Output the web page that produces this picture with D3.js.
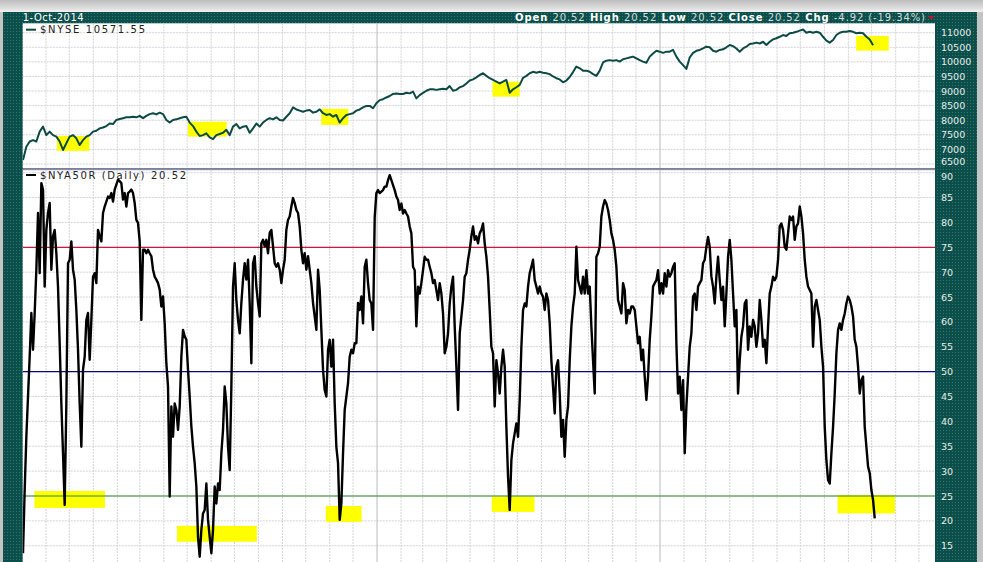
<!DOCTYPE html>
<html><head><meta charset="utf-8">
<script src="https://cdn.jsdelivr.net/npm/d3@7"></script>
<style>
body{margin:0;background:#fff}
svg{display:block}
text{font-family:"DejaVu Sans",Verdana,sans-serif}
</style>
</head><body>
<svg id="chart" width="983" height="562"></svg>
<script>
// ---------------- DATA ----------------
const headerDate = "1-Oct-2014";
const headerLabels = ["Open", "High", "Low", "Close", "Chg"];
const headerValues = ["20.52", "20.52", "20.52", "20.52", "-4.92 (-19.34%)"];

const nyseName = "$NYSE 10571.55";
const breadthName = "$NYA50R (Daily) 20.52";

const seriesStart = "2011-10-02T08:00:00Z";
const nyseStepDays = 4.3;
const nyseValues = [
6640,7090,7270,7320,7270,7610,7780,7490,7610,7490,
7440,7270,6980,7210,7440,7490,7380,7150,7320,7440,
7490,7610,7640,7720,7750,7800,7890,7870,8010,8040,
8070,8100,8100,8120,8100,8150,8070,8150,8210,8240,
8200,8260,8210,8010,7920,8010,8030,8070,8100,8120,
7920,7800,7610,7460,7490,7550,7410,7350,7490,7530,
7570,7670,7490,7780,7870,7720,7780,7800,7570,7720,
7890,7780,7920,8010,8070,8030,8100,8010,7990,8120,
8240,8440,8370,8330,8290,8330,8350,8260,8290,8370,
8240,8180,8210,8120,8180,7920,8070,8180,8210,8240,
8330,8370,8440,8490,8490,8410,8580,8690,8720,8780,
8830,8900,8920,8900,8900,8940,8920,8980,8750,8860,
8940,9010,9060,9060,9040,9060,9080,9060,9170,9010,
9040,9130,9170,9260,9360,9400,9470,9550,9610,9520,
9440,9380,9320,9260,
9320,9380,8940,9060,9130,9210,9450,9520,9610,9660,
9630,9660,9630,9610,9580,9500,9440,9400,9300,9360,
9480,9650,9840,9780,9700,9700,9660,9580,9520,9700,
9980,10040,10060,10040,10060,10010,10090,10120,10150,10180,
10120,10060,10010,9970,10180,10290,10380,10350,10310,10350,
10350,10410,10180,10010,9890,9760,10150,10310,10380,10410,
10460,10520,10500,10380,10350,10410,10430,10500,10580,10540,
10460,10350,10460,10520,10610,10630,10660,10630,10690,10580,
10690,10770,10810,10860,10920,10890,10980,11000,11030,11070,
11110,11000,11030,11000,11030,11000,10860,10730,10660,10750,
10920,11000,11030,11030,11060,11030,10980,11000,10980,10860,
10770,10570
];

const breadthStepDays = 2.15;
const breadthValues = [
13.5,26.2,36.9,45.0,53.0,61.8,54.4,61.8,70.5,81.9,
69.8,87.9,86.6,67.1,78.5,81.9,83.9,70.5,77.2,78.5,
73.8,67.1,55.7,43.6,33.6,23.2,43.6,71.8,72.5,76.2,
70.5,68.5,62.4,54.4,43.6,34.9,50.4,53.0,60.4,61.8,
52.4,60.4,69.1,69.8,67.8,78.5,77.2,76.2,81.9,83.2,
84.2,85.2,84.9,85.9,84.2,86.6,87.6,88.6,88.3,87.9,
84.6,85.9,83.2,85.9,86.2,86.6,85.9,83.9,80.5,79.9,
76.2,60.4,74.5,74.5,73.8,74.5,73.8,73.2,70.5,69.1,
68.5,67.8,66.5,63.1,65.1,59.7,51.7,47.0,24.9,43.0,
36.9,43.6,42.3,38.3,43.0,53.0,58.4,57.1,56.4,50.4,
45.0,39.0,34.9,31.6,26.9,16.8,12.8,18.2,21.5,22.2,
27.5,20.2,16.8,13.5,18.2,26.9,23.5,27.5,26.2,33.6,
38.3,47.0,43.6,34.9,30.2,47.0,67.1,71.8,64.4,60.4,
57.7,63.8,68.5,71.8,68.5,72.5,63.8,51.7,71.8,73.2,
67.1,63.8,61.1,75.8,76.5,75.2,76.5,73.8,77.9,78.5,
75.2,71.8,71.1,71.8,70.5,67.8,70.5,72.5,78.5,80.5,
81.2,83.2,84.9,83.9,82.5,81.9,79.2,74.5,71.8,73.8,
70.5,73.2,70.5,67.8,63.8,61.1,58.4,70.5,66.5,58.4,
50.4,46.3,45.0,54.4,56.4,51.0,56.4,43.6,34.9,31.6,
20.2,23.5,33.6,42.3,45.0,47.7,53.0,54.4,53.7,55.7,
55.7,63.8,62.4,65.1,59.7,71.1,72.5,67.8,
64.4,63.7,58.4,81.0,85.9,86.5,85.9,86.2,86.5,87.2,
87.2,88.5,89.5,88.5,87.5,86.5,85.2,84.5,82.5,83.8,
81.8,82.5,81.8,81.2,79.2,77.8,71.1,70.4,59.1,67.1,
65.7,67.8,70.4,73.1,72.5,72.5,71.1,69.8,67.8,68.4,
66.4,64.4,67.8,65.7,61.7,53.7,55.0,57.7,63.7,67.1,
69.1,59.1,51.0,42.3,57.7,61.1,64.4,69.1,69.8,72.5,
74.5,77.2,79.2,76.5,77.2,75.8,77.8,78.5,79.8,75.8,
73.1,69.1,62.4,55.0,53.7,43.0,52.3,49.7,45.6,51.0,
54.4,51.0,38.9,28.9,22.2,32.2,35.6,37.6,39.6,36.9,
44.3,55.0,62.4,63.7,63.1,67.1,69.8,71.1,72.5,68.4,
67.1,65.7,67.1,65.7,65.1,62.4,65.7,64.4,59.7,52.3,
47.0,41.6,51.0,52.3,45.6,36.9,40.3,32.9,40.3,43.0,
52.3,59.1,63.1,65.7,75.1,68.4,67.1,65.7,69.1,65.7,
70.4,65.7,67.1,59.1,52.3,45.6,73.1,73.8,75.1,81.2,
83.2,84.5,83.8,82.5,80.5,77.8,76.5,74.5,71.1,64.4,
63.1,61.7,67.8,66.4,59.7,62.4,61.7,63.1,63.1,62.4,
59.1,55.7,57.0,52.3,54.4,49.0,44.3,49.0,56.4,61.1,
67.1,67.8,68.4,70.4,
65.7,67.8,65.7,69.8,67.1,70.4,69.1,69.8,71.1,71.8,
55.7,45.6,49.0,42.3,48.3,33.6,43.0,49.0,55.0,57.7,
65.1,65.7,62.4,67.1,67.8,68.4,71.8,72.5,75.1,77.1,
75.1,69.1,67.1,63.7,69.1,73.1,68.4,64.4,67.1,59.1,
65.7,73.1,76.5,72.5,65.7,59.1,62.4,45.6,52.3,57.0,
59.1,63.7,64.4,54.4,59.1,57.0,60.4,59.1,55.0,57.7,
64.4,60.4,55.0,56.4,51.7,59.1,65.7,67.1,69.1,68.4,
69.1,72.5,79.2,79.8,78.5,75.1,74.5,77.8,81.2,80.5,
81.2,76.5,79.2,79.8,83.2,81.2,77.8,72.5,69.1,67.1,
66.4,65.7,55.0,63.1,64.4,62.4,60.4,55.0,51.0,38.9,
32.2,28.2,27.5,33.6,38.9,45.6,53.7,58.4,59.7,58.4,
60.4,61.7,63.7,65.1,64.4,63.1,61.1,56.4,55.0,51.0,
45.6,48.3,49.0,38.9,34.9,30.9,29.6,26.2,24.2,20.52
];

const nyseTicks = [6500,7000,7500,8000,8500,9000,9500,10000,10500,11000];
const breadthTicks = [15,20,25,30,35,40,45,50,55,60,65,70,75,80,85,90];
const breadthRefLevels = [75, 50, 25];

// yellow annotation boxes (date range, value range)
const nyseHighlights = [
  {from:"2011-11-15", to:"2011-12-27", lo:6950, hi:7460},
  {from:"2012-05-02", to:"2012-06-21", lo:7440, hi:7950},
  {from:"2012-10-21", to:"2012-11-25", lo:7840, hi:8390},
  {from:"2013-05-30", to:"2013-07-04", lo:8810, hi:9320},
  {from:"2014-09-11", to:"2014-10-23", lo:10385, hi:10890}
];
const breadthHighlights = [
  {from:"2011-10-17", to:"2012-01-16", lo:22.6, hi:26.0},
  {from:"2012-04-18", to:"2012-07-30", lo:15.8, hi:19.0},
  {from:"2012-10-27", to:"2012-12-12", lo:19.8, hi:23.0},
  {from:"2013-05-29", to:"2013-07-23", lo:21.8, hi:24.9},
  {from:"2014-08-18", to:"2014-10-31", lo:21.5, hi:25.2}
];

// ---------------- LAYOUT ----------------
const W = 983, H = 562;
const L = 22.7, R = 935;
const upTop = 23.3, upBot = 168, loTop = 170, loBot = 562;

const svg = d3.select("#chart");
const defs = svg.append("defs");

const pat = defs.append("pattern").attr("id","dots").attr("width",3).attr("height",3)
  .attr("patternUnits","userSpaceOnUse");
pat.append("rect").attr("width",3).attr("height",3).attr("fill","#0b4e4b");
pat.append("rect").attr("x",1).attr("y",1).attr("width",1).attr("height",1).attr("fill","#2f7a66");

const g1 = defs.append("linearGradient").attr("id","shade").attr("x1",0).attr("y1",0).attr("x2",0).attr("y2",1);
g1.append("stop").attr("offset","0%").attr("stop-color","#bdbdbd");
g1.append("stop").attr("offset","70%").attr("stop-color","#dedede");
g1.append("stop").attr("offset","100%").attr("stop-color","#f2f2f2");

defs.append("clipPath").attr("id","clipUp").append("rect")
  .attr("x",L).attr("y",upTop).attr("width",R-L).attr("height",upBot-upTop);
defs.append("clipPath").attr("id","clipLo").append("rect")
  .attr("x",L).attr("y",loTop).attr("width",R-L).attr("height",loBot-loTop);

// background / frame
svg.append("rect").attr("width",W).attr("height",H).attr("fill","#c4c4c4");
svg.append("rect").attr("width",W).attr("height",12).attr("fill","url(#shade)");
svg.append("rect").attr("x",3).attr("y",12).attr("width",974).attr("height",H-12).attr("fill","url(#dots)");
svg.append("rect").attr("x",L).attr("y",upTop).attr("width",R-L).attr("height",upBot-upTop).attr("fill","#fff");
svg.append("rect").attr("x",L).attr("y",loTop).attr("width",R-L).attr("height",loBot-loTop).attr("fill","#fff");
svg.append("rect").attr("x",L).attr("y",upBot).attr("width",R-L).attr("height",1.6).attr("fill","#7e7e9e");
svg.append("rect").attr("x",L).attr("y",upBot+1.6).attr("width",R-L).attr("height",0.8).attr("fill","#c8c8d6");

// scales
const x = d3.scaleUtc().domain([Date.UTC(2012,0,1), Date.UTC(2014,0,1)]).range([93.3, 660]);
const yUp = d3.scaleLinear().domain([6500, 11000]).range([164, 32.7]);
const yLo = d3.scaleLinear().domain([25, 75]).range([496, 247.3]);

const t0 = Date.parse(seriesStart), DAY = 864e5;
const nyse = nyseValues.map((v,i)=>({d:new Date(t0 + i*nyseStepDays*DAY), v}));
const breadth = breadthValues.map((v,i)=>({d:new Date(t0 + i*breadthStepDays*DAY), v}));

// grid
const months = d3.utcMonth.range(new Date(Date.UTC(2011,9,1)), new Date(Date.UTC(2015,0,1)))
  .filter(m => x(m) > L+0.5 && x(m) < R);
function grid(clip, top, bot, yScale, ticks){
  const g = svg.append("g").attr("clip-path", `url(#${clip})`);
  g.selectAll("line.h").data(ticks).join("line")
    .attr("x1",L).attr("x2",R).attr("y1",d=>yScale(d)).attr("y2",d=>yScale(d))
    .attr("stroke","#d4d0d8").attr("stroke-width",1).attr("stroke-dasharray","2,1");
  g.selectAll("line.v").data(months).join("line")
    .attr("x1",d=>x(d)).attr("x2",d=>x(d)).attr("y1",top).attr("y2",bot)
    .attr("stroke",d=>d.getUTCMonth()===0 && d.getUTCFullYear()>2012 ? "#bbbbbb" : "#d4d4d4")
    .attr("stroke-width",1)
    .attr("stroke-dasharray",d=>d.getUTCMonth()===0 && d.getUTCFullYear()>2012 ? null : "2,1");
  return g;
}
const gUp = grid("clipUp", upTop, upBot, yUp, nyseTicks);
const gLo = grid("clipLo", loTop, loBot, yLo, breadthTicks);

// highlights
function boxes(g, data, yScale){
  g.selectAll("rect.hl").data(data).join("rect")
    .attr("x",d=>x(new Date(d.from+"T00:00:00Z")))
    .attr("width",d=>x(new Date(d.to+"T00:00:00Z"))-x(new Date(d.from+"T00:00:00Z")))
    .attr("y",d=>yScale(d.hi)).attr("height",d=>yScale(d.lo)-yScale(d.hi))
    .attr("fill","#ffff00");
}
boxes(gUp, nyseHighlights, yUp);
boxes(gLo, breadthHighlights, yLo);

// reference lines
const refColor = {75:"#d0163e", 50:"#0a0a80", 25:"#2e8a2e"};
gLo.selectAll("line.ref").data(breadthRefLevels).join("line")
  .attr("x1",L).attr("x2",R).attr("y1",d=>yLo(d)).attr("y2",d=>yLo(d))
  .attr("stroke",d=>refColor[d]).attr("stroke-width",1.2);

// series
gUp.append("path").datum(nyse)
  .attr("d", d3.line().x(d=>x(d.d)).y(d=>yUp(d.v)))
  .attr("fill","none").attr("stroke","#0c4a44").attr("stroke-width",2).attr("stroke-linejoin","round");
gLo.append("path").datum(breadth)
  .attr("d", d3.line().x(d=>x(d.d)).y(d=>yLo(d.v)))
  .attr("fill","none").attr("stroke","#000").attr("stroke-width",2.4).attr("stroke-linejoin","round");

// legends
function legend(yLine, yText, color, label, len){
  svg.append("line").attr("x1",26).attr("x2",36).attr("y1",yLine).attr("y2",yLine)
    .attr("stroke",color).attr("stroke-width",2);
  svg.append("text").attr("x",40).attr("y",yText).attr("font-size",10)
    .attr("fill","#222").attr("textLength",len).attr("lengthAdjust","spacing").text(label);
}
legend(29.7, 33, "#0c4a44", nyseName, 105);
legend(175, 178.6, "#000", breadthName, 146);

// right axes (edge labels nudged apart where the two panels meet)
function axis(scale, ticks, edgeTick, nudge){
  const g = svg.append("g").attr("transform",`translate(${R},0)`)
    .call(d3.axisRight(scale).tickValues(ticks).tickSize(0).tickPadding(6).tickFormat(d3.format("d")));
  g.select(".domain").remove();
  g.selectAll("text").attr("fill","#e8ece8").attr("font-size",9.5)
    .attr("font-family","DejaVu Sans, Verdana, sans-serif");
  g.selectAll(".tick").filter(d=>d===edgeTick).select("text").attr("dy", nudge);
}
axis(yUp, nyseTicks, 6500, "0.1em");
axis(yLo, breadthTicks, 90, "0.75em");

// header
svg.append("text").attr("x",22.7).attr("y",20.5).attr("font-size",10).attr("fill","#fff")
  .attr("textLength",61).attr("lengthAdjust","spacing").text(headerDate);
const ht = svg.append("text").attr("x",515).attr("y",20.5).attr("font-size",10)
  .attr("textLength",410).attr("lengthAdjust","spacing");
headerLabels.forEach((lab,i)=>{
  ht.append("tspan").attr("font-weight","bold").attr("fill","#ffffff").text((i?"  ":"")+lab+" ");
  ht.append("tspan").attr("fill","#d8dcdc").text(headerValues[i]);
});
svg.append("path").attr("d","M928,16 L934.5,16 L931.25,19.5 Z").attr("fill","#c8102e");
</script>
</body></html>
